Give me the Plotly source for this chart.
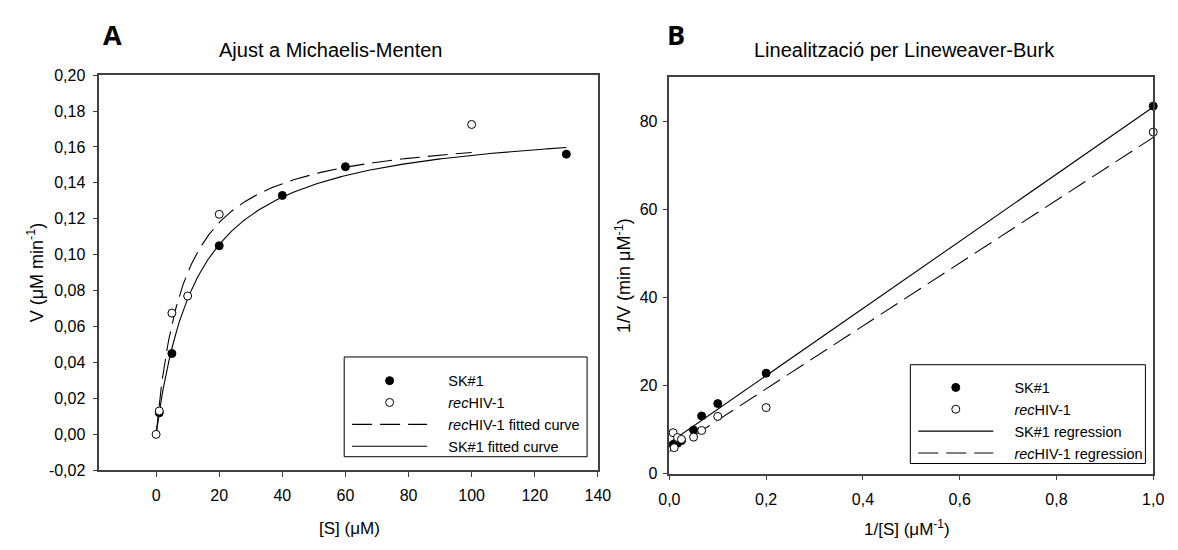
import numpy as np
import plotly.graph_objects as go

# ---------------- Panel A data (Michaelis-Menten) ----------------
s_sk1 = [1, 5, 20, 40, 60, 130]
v_sk1 = [0.012, 0.045, 0.105, 0.133, 0.149, 0.156]
s_rec = [0, 1, 5, 10, 20, 100]
v_rec = [0.0, 0.013, 0.0675, 0.077, 0.1225, 0.1725]
# fitted Michaelis-Menten parameters
vmax_sk1, km_sk1, smax_sk1 = 0.176, 13.3, 130
vmax_rec, km_rec, smax_rec = 0.171, 9.0, 100

# ---------------- Panel B data (Lineweaver-Burk) ----------------
inv_s_sk1 = [0.0077, 0.0167, 0.025, 0.05, 0.0667, 0.1, 0.2, 1.0]
inv_v_sk1 = [6.6, 6.9, 7.5, 9.9, 13.1, 15.9, 22.8, 83.4]
inv_s_rec = [0.0077, 0.01, 0.0167, 0.025, 0.05, 0.0667, 0.1, 0.2, 1.0]
inv_v_rec = [9.3, 5.9, 8.2, 7.8, 8.3, 9.8, 13.0, 15.0, 77.5]
# regression parameters (slope, intercept)
slope_sk1, icpt_sk1 = 76.2, 7.0
slope_rec, icpt_rec = 71.3, 5.0

# tick labels
a_yticks = [-0.02, 0.0, 0.02, 0.04, 0.06, 0.08, 0.10, 0.12, 0.14, 0.16, 0.18, 0.20]
a_yticktext = ["-0,02", "0,00", "0,02", "0,04", "0,06", "0,08", "0,10", "0,12", "0,14", "0,16", "0,18", "0,20"]
a_xticks = [0, 20, 40, 60, 80, 100, 120, 140]
b_xticks = [0.0, 0.2, 0.4, 0.6, 0.8, 1.0]
b_xticktext = ["0,0", "0,2", "0,4", "0,6", "0,8", "1,0"]
b_yticks = [0, 20, 40, 60, 80]

FONT = "Liberation Sans, Arial, sans-serif"
PAGE_W, PAGE_H = 1178, 550
OFF = 8  # default body margin of the html page
W, H = PAGE_W - OFF, PAGE_H - OFF
DASH = "20px,8px"
NB = "\u00a0\u00a0\u00a0\u00a0"

fig = go.Figure()

# ---- Panel A curves ----
sg = np.linspace(0, smax_sk1, 300)
fig.add_trace(go.Scatter(x=sg, y=vmax_sk1 * sg / (km_sk1 + sg), mode="lines",
                         line=dict(color="black", width=1.1), name=NB + "SK#1 fitted curve",
                         legend="legend", legendrank=4, xaxis="x", yaxis="y"))
rg = np.linspace(0, smax_rec, 300)
fig.add_trace(go.Scatter(x=rg, y=vmax_rec * rg / (km_rec + rg), mode="lines",
                         line=dict(color="black", width=1.1, dash=DASH), name=NB + "<i>rec</i>HIV-1 fitted curve",
                         legend="legend", legendrank=3, xaxis="x", yaxis="y"))
fig.add_trace(go.Scatter(x=s_sk1, y=v_sk1, mode="markers", name=NB + "SK#1",
                         marker=dict(symbol="circle", size=8, color="black", line=dict(color="black", width=1)),
                         legend="legend", legendrank=1, xaxis="x", yaxis="y", cliponaxis=False))
fig.add_trace(go.Scatter(x=s_rec, y=v_rec, mode="markers", name=NB + "<i>rec</i>HIV-1",
                         marker=dict(symbol="circle", size=8, color="white", line=dict(color="black", width=1)),
                         legend="legend", legendrank=2, xaxis="x", yaxis="y", cliponaxis=False))

# ---- Panel B lines ----
xg = np.linspace(0, 1, 50)
fig.add_trace(go.Scatter(x=xg, y=slope_sk1 * xg + icpt_sk1, mode="lines",
                         line=dict(color="black", width=1.1), name=NB + "SK#1 regression",
                         legend="legend2", legendrank=3, xaxis="x2", yaxis="y2"))
fig.add_trace(go.Scatter(x=xg, y=slope_rec * xg + icpt_rec, mode="lines",
                         line=dict(color="black", width=1.1, dash=DASH), name=NB + "<i>rec</i>HIV-1 regression",
                         legend="legend2", legendrank=4, xaxis="x2", yaxis="y2"))
fig.add_trace(go.Scatter(x=inv_s_sk1, y=inv_v_sk1, mode="markers", name=NB + "SK#1",
                         marker=dict(symbol="circle", size=8, color="black", line=dict(color="black", width=1)),
                         legend="legend2", legendrank=1, xaxis="x2", yaxis="y2", cliponaxis=False))
fig.add_trace(go.Scatter(x=inv_s_rec, y=inv_v_rec, mode="markers", name=NB + "<i>rec</i>HIV-1",
                         marker=dict(symbol="circle", size=8, color="white", line=dict(color="black", width=1)),
                         legend="legend2", legendrank=2, xaxis="x2", yaxis="y2", cliponaxis=False))


def px_x(p):
    return (p - OFF) / W


def px_y(p):
    return 1 - (p - OFF) / H


axis_common = dict(showline=True, linecolor="#404040", linewidth=1.5, mirror=True,
                   ticks="outside", ticklen=5, tickwidth=1, tickcolor="#404040",
                   showgrid=False, zeroline=False,
                   tickfont=dict(family=FONT, size=16, color="black"))

legend_common = dict(bgcolor="rgba(0,0,0,0)", borderwidth=0,
                     font=dict(family=FONT, size=14.5, color="black"),
                     itemwidth=75, tracegroupgap=0, traceorder="normal",
                     xanchor="left", yanchor="top", itemclick=False)

fig.update_layout(
    width=W, height=H,
    margin=dict(l=0, r=0, t=0, b=0),
    paper_bgcolor="white", plot_bgcolor="white",
    separators=", ",
    font=dict(family=FONT, color="black"),
    xaxis=dict(domain=[px_x(90), px_x(599)], range=[-18, 140], tickvals=a_xticks,
               anchor="y", ticklabelstandoff=5, **axis_common),
    yaxis=dict(domain=[px_y(477), px_y(69)], range=[-0.02, 0.20], tickvals=a_yticks,
               ticktext=a_yticktext, anchor="x", ticklabelstandoff=4, **axis_common),
    xaxis2=dict(domain=[px_x(672), px_x(1166)], range=[0, 1], tickvals=b_xticks,
                ticktext=b_xticktext, anchor="y2", ticklabelstandoff=5, **axis_common),
    yaxis2=dict(domain=[px_y(480.5), px_y(71)], range=[0, 90], tickvals=b_yticks,
                anchor="x2", ticklabelstandoff=2, **axis_common),
    legend=dict(x=px_x(343), y=px_y(368), **legend_common),
    legend2=dict(x=px_x(921), y=px_y(375), **legend_common),
    showlegend=True,
    shapes=[
        dict(type="rect", xref="paper", yref="paper", x0=px_x(340), x1=px_x(588),
             y0=px_y(463), y1=px_y(360), line=dict(color="black", width=1), layer="above"),
        dict(type="rect", xref="paper", yref="paper", x0=px_x(918), x1=px_x(1158),
             y0=px_y(470), y1=px_y(368), line=dict(color="black", width=1), layer="above"),
    ],
)

ann = [
    dict(text="<b>A</b>", x=px_x(92), y=px_y(27), xanchor="left", yanchor="middle",
         font=dict(family="Open Sans, sans-serif", size=27)),
    dict(text="<b>B</b>", x=px_x(668), y=px_y(27), xanchor="left", yanchor="middle",
         font=dict(family="Open Sans, sans-serif", size=27)),
    dict(text="Ajust a Michaelis-Menten", x=px_x(326), y=px_y(43), xanchor="center", yanchor="middle",
         font=dict(family=FONT, size=20)),
    dict(text="Linealització per Lineweaver-Burk", x=px_x(912), y=px_y(43), xanchor="center", yanchor="middle",
         font=dict(family=FONT, size=20)),
    dict(text="V (μM min<sup>-1</sup>)", x=px_x(25), y=px_y(273), xanchor="center", yanchor="middle",
         textangle=-90, font=dict(family=FONT, size=18)),
    dict(text="1/V (min μM<sup>-1</sup>)", x=px_x(625), y=px_y(276), xanchor="center", yanchor="middle",
         textangle=-90, font=dict(family=FONT, size=18)),
    dict(text="[S] (μM)", x=px_x(345), y=px_y(537), xanchor="center", yanchor="middle",
         font=dict(family=FONT, size=17)),
    dict(text="1/[S] (μM<sup>-1</sup>)", x=px_x(915), y=px_y(537), xanchor="center", yanchor="middle",
         font=dict(family=FONT, size=17)),
]
for a in ann:
    a.update(xref="paper", yref="paper", showarrow=False)
fig.update_layout(annotations=ann)

fig.write_html("out.html")
